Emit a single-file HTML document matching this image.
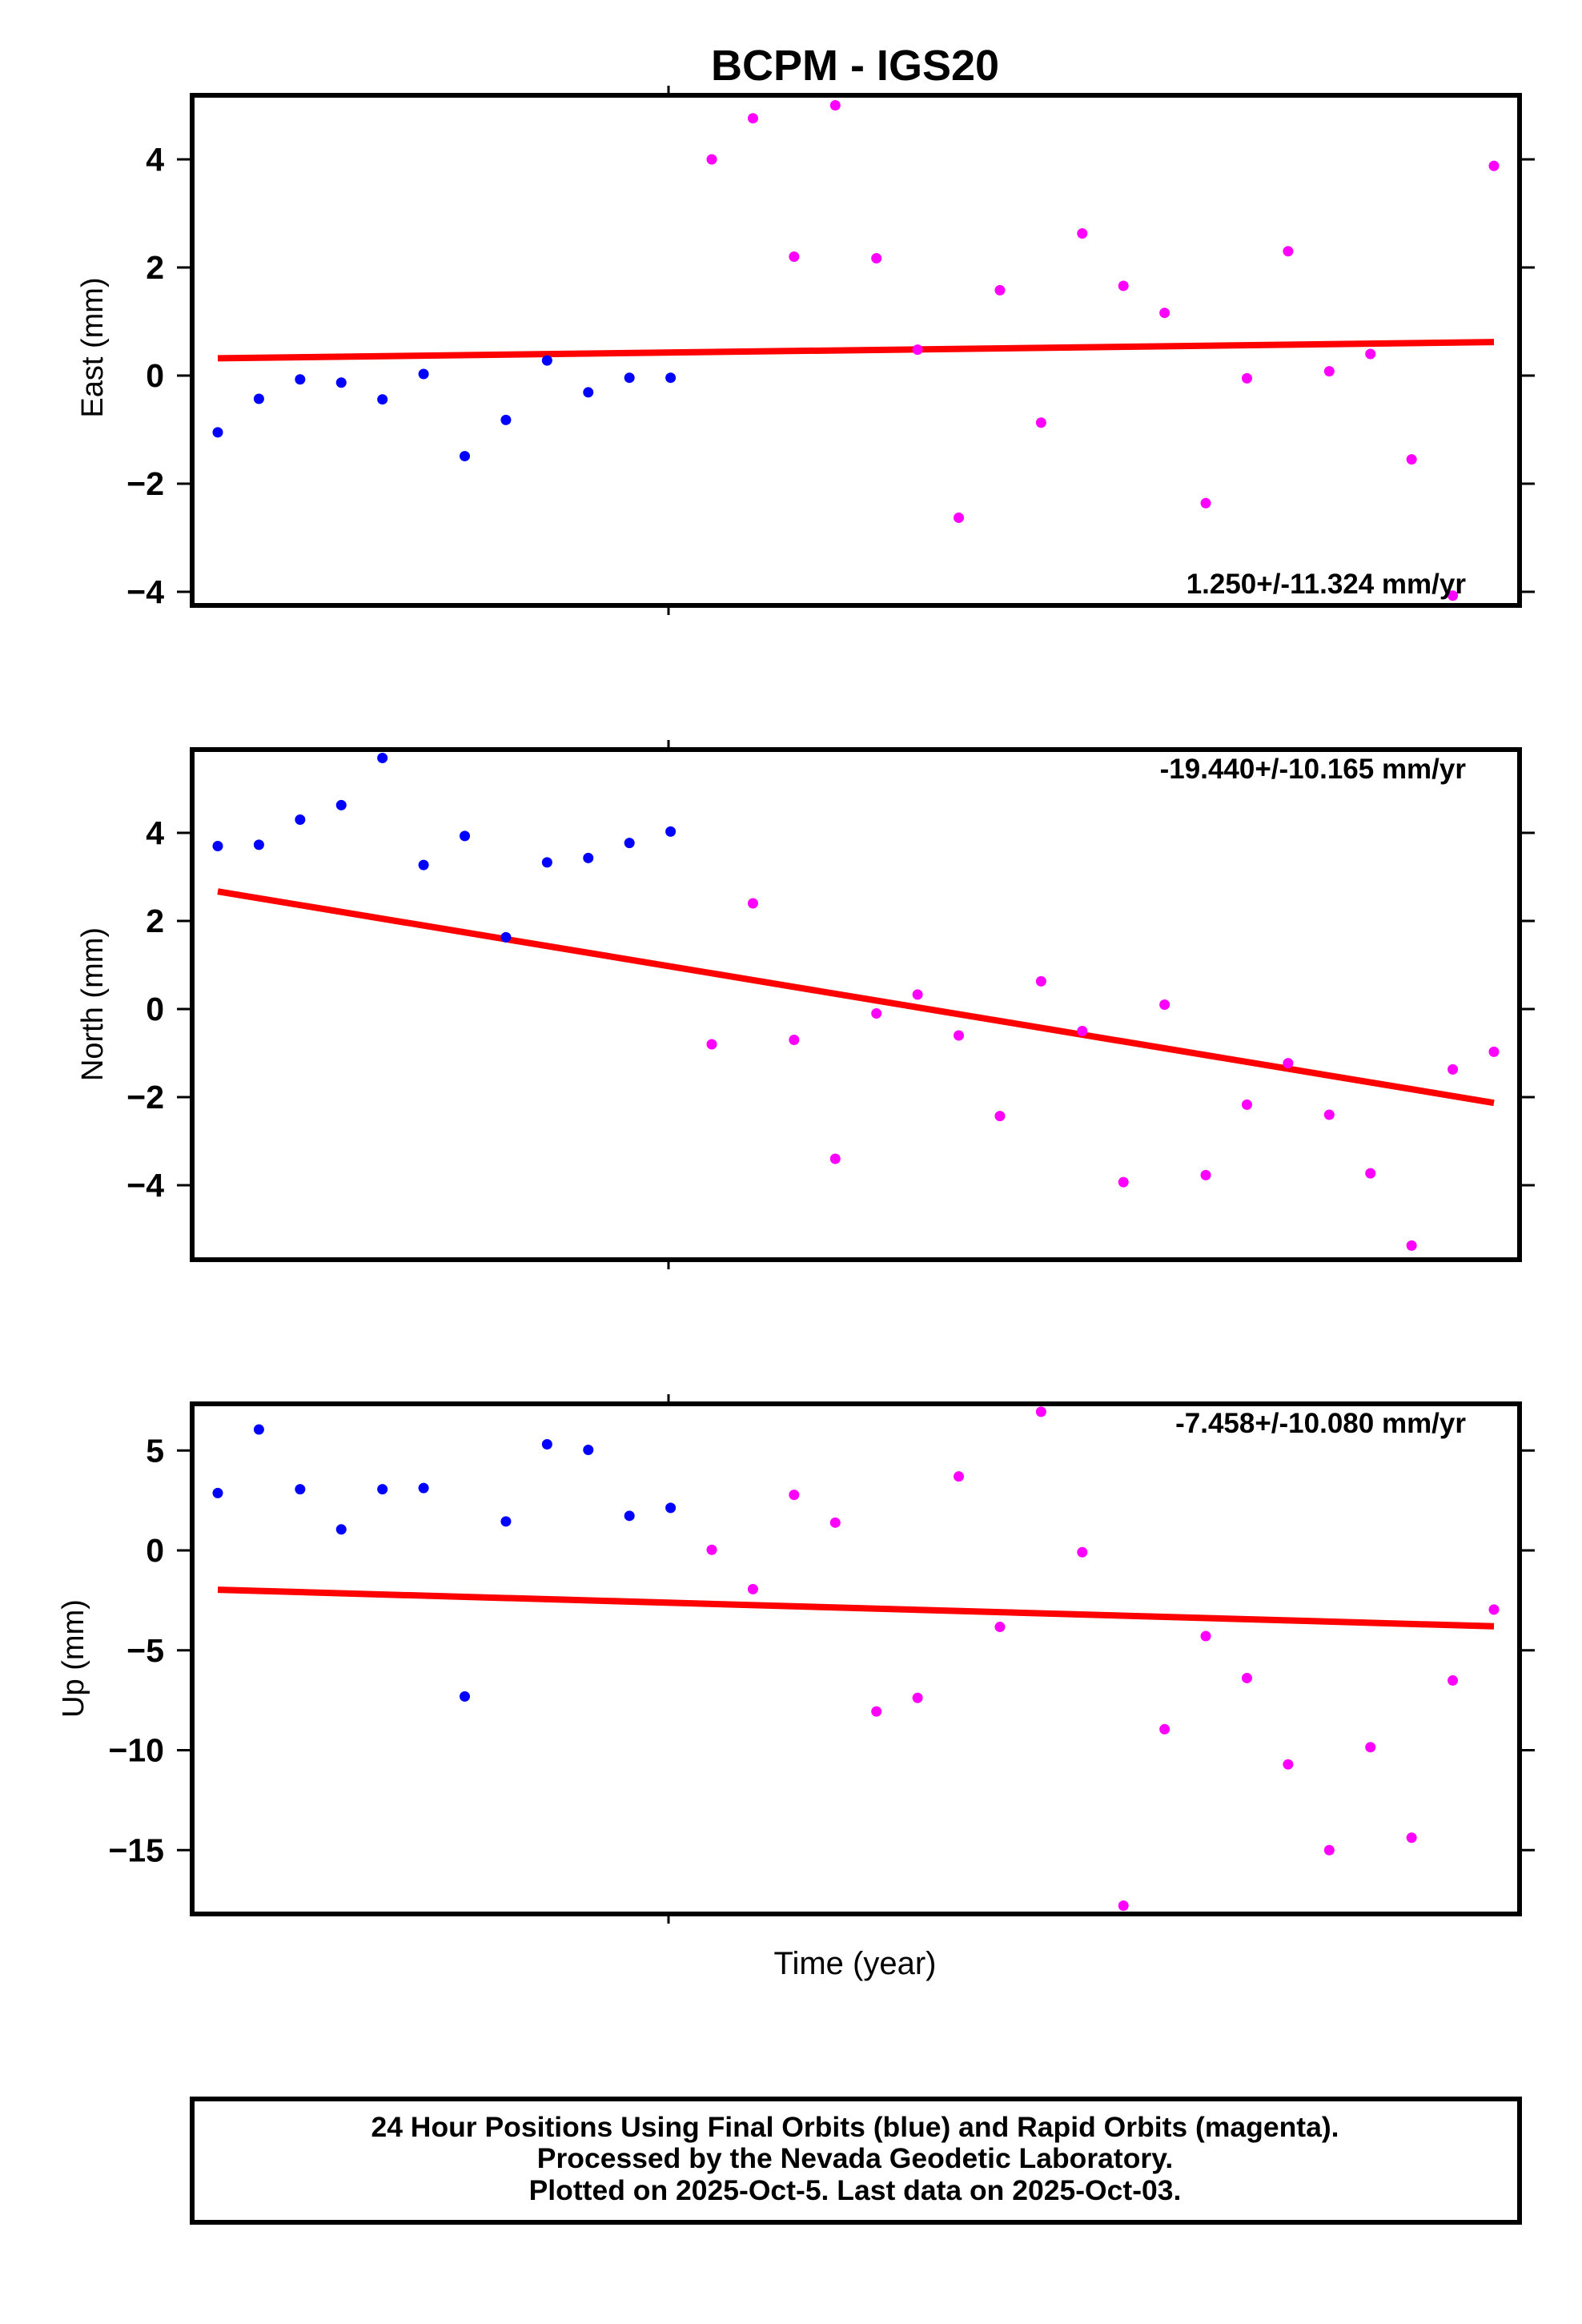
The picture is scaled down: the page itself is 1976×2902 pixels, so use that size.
<!DOCTYPE html>
<html><head><meta charset="utf-8"><style>
html,body{margin:0;padding:0;background:#fff}
svg{display:block}
text{font-family:"Liberation Sans",Arial,sans-serif}
</style></head><body>
<svg id="s" width="1976" height="2902" viewBox="0 0 1976 2902" xmlns="http://www.w3.org/2000/svg">
<rect width="1976" height="2902" fill="#fff"/>
<text x="1068" y="100" font-size="54" font-weight="bold" text-anchor="middle">BCPM - IGS20</text>
<g id="g"></g>
<text transform="translate(128,434) rotate(-90)" font-size="38" text-anchor="middle">East (mm)</text>
<text transform="translate(128,1254) rotate(-90)" font-size="38" text-anchor="middle">North (mm)</text>
<text transform="translate(104,2071) rotate(-90)" font-size="38" text-anchor="middle">Up (mm)</text>
<text x="1831" y="741" font-size="35" font-weight="bold" text-anchor="end">1.250+/-11.324 mm/yr</text>
<text x="1831" y="972" font-size="35" font-weight="bold" text-anchor="end">-19.440+/-10.165 mm/yr</text>
<text x="1831" y="1789" font-size="35" font-weight="bold" text-anchor="end">-7.458+/-10.080 mm/yr</text>
<text x="1068" y="2438" font-size="40" text-anchor="middle" dy="27">Time (year)</text>
<rect x="240" y="2621" width="1658" height="154" fill="none" stroke="#000" stroke-width="6"/>
<text x="1068" y="2668" font-size="35.5" font-weight="bold" text-anchor="middle">24 Hour Positions Using Final Orbits (blue) and Rapid Orbits (magenta).</text>
<text x="1068" y="2707" font-size="35.5" font-weight="bold" text-anchor="middle">Processed by the Nevada Geodetic Laboratory.</text>
<text x="1068" y="2747" font-size="35.5" font-weight="bold" text-anchor="middle">Plotted on 2025-Oct-5. Last data on 2025-Oct-03.</text>
</svg>
<script>
var NS="http://www.w3.org/2000/svg",g=document.getElementById("g");
function el(t,a,txt){var e=document.createElementNS(NS,t);for(var k in a)e.setAttribute(k,a[k]);if(txt!=null)e.textContent=txt;g.appendChild(e);return e;}
var L=240,R=1898,H=637;
var panels=[
 {top:119,y0:469,k:67.5,ticks:[[4,"4"],[2,"2"],[0,"0"],[-2,"\u22122"],[-4,"\u22124"]],
  d:[-1.05,-0.43,-0.07,-0.13,-0.44,0.03,-1.49,-0.82,0.28,-0.31,-0.04,-0.04,4.0,4.76,2.2,5.0,2.17,0.48,-2.63,1.58,-0.87,2.63,1.66,1.16,-2.36,-0.05,2.3,0.08,0.4,-1.55,-4.07,3.88],l:[0.32,0.62]},
 {top:936,y0:1260,k:55,ticks:[[4,"4"],[2,"2"],[0,"0"],[-2,"\u22122"],[-4,"\u22124"]],
  d:[3.7,3.73,4.3,4.63,5.7,3.27,3.93,1.63,3.33,3.43,3.77,4.03,-0.8,2.4,-0.7,-3.4,-0.1,0.33,-0.6,-2.43,0.63,-0.5,-3.93,0.1,-3.77,-2.17,-1.23,-2.4,-3.73,-5.37,-1.37,-0.97],l:[2.67,-2.13]},
 {top:1753,y0:1936,k:24.95,ticks:[[5,"5"],[0,"0"],[-5,"\u22125"],[-10,"\u221210"],[-15,"\u221215"]],
  d:[2.87,6.05,3.06,1.05,3.06,3.12,-7.31,1.45,5.31,5.03,1.73,2.13,0.03,-1.94,2.78,1.39,-8.06,-7.38,3.7,-3.83,6.94,-0.09,-17.78,-8.95,-4.29,-6.39,-10.71,-15.0,-9.85,-14.38,-6.51,-2.96],l:[-1.97,-3.8]}
];
var x0=272,dx=(1866-272)/31;
panels.forEach(function(p){
 var Y=function(v){return p.y0-p.k*v;};
 p.ticks.forEach(function(t){var y=Y(t[0]);
  el("line",{x1:221,y1:y,x2:L,y2:y,stroke:"#000","stroke-width":3});
  el("line",{x1:R,y1:y,x2:1917,y2:y,stroke:"#000","stroke-width":3});
  el("text",{x:205,y:y+14,"font-size":41,"font-weight":"bold","text-anchor":"end"},t[1]);
 });
 el("line",{x1:835,y1:p.top-12,x2:835,y2:p.top,stroke:"#000","stroke-width":3});
 el("line",{x1:835,y1:p.top+H,x2:835,y2:p.top+H+12,stroke:"#000","stroke-width":3});
 el("line",{x1:x0,y1:Y(p.l[0]),x2:1866,y2:Y(p.l[1]),stroke:"#f00","stroke-width":8});
 p.d.forEach(function(v,i){el("circle",{cx:x0+i*dx,cy:Y(v),r:6.5,fill:i<12?"#00f":"#f0f"});});
 el("rect",{x:L,y:p.top,width:R-L,height:H,fill:"none",stroke:"#000","stroke-width":6});
});
</script>
</body></html>
